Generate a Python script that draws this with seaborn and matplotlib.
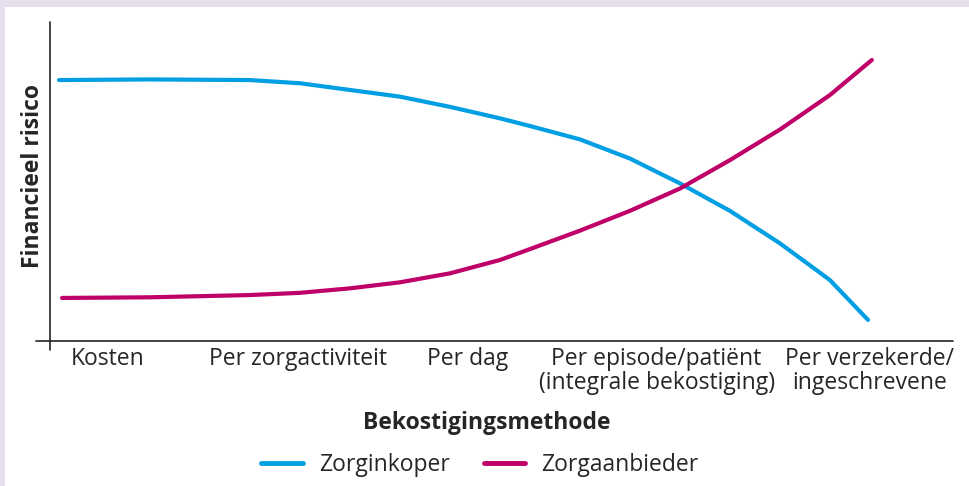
import numpy as np
import matplotlib.pyplot as plt
import pandas as pd
import seaborn as sns
from matplotlib.lines import Line2D

# categories on the x axis and where their labels sit
categories = ['Kosten', 'Per zorgactiviteit', 'Per dag',
              'Per episode/patiënt\n(integrale bekostiging)',
              'Per verzekerde/\ningeschrevene']
category_pos = [0, 1, 1.89, 2.88, 4.0]

# curves (x in category units, y = relative risk 0..1)
koper_x = [-0.257, 0.220, 0.745, 1.008, 1.270, 1.533, 1.795, 2.058, 2.215, 2.478,
           2.740, 3.003, 3.265, 3.528, 3.790, 3.990]
koper_y = [0.818, 0.820, 0.818, 0.808, 0.787, 0.766, 0.734, 0.698, 0.674, 0.632,
           0.572, 0.494, 0.408, 0.306, 0.191, 0.066]
aanbieder_x = [-0.241, 0.220, 0.745, 1.008, 1.270, 1.533, 1.795, 2.058, 2.215, 2.478,
               2.740, 3.003, 3.265, 3.528, 3.790, 4.010]
aanbieder_y = [0.135, 0.137, 0.144, 0.151, 0.165, 0.184, 0.212, 0.254, 0.288, 0.346,
               0.408, 0.478, 0.567, 0.663, 0.771, 0.881]

series = ['Zorginkoper', 'Zorgaanbieder']
colors = ['#009FE3', '#BE0068']

df = pd.concat([
    pd.DataFrame({'x': koper_x, 'y': koper_y, 'serie': series[0]}),
    pd.DataFrame({'x': aanbieder_x, 'y': aanbieder_y, 'serie': series[1]}),
])

sns.set_style('white')
plt.rcParams['font.family'] = ['Open Sans', 'DejaVu Sans']
fs = 16.5

fig = plt.figure(figsize=(9.7, 4.86), dpi=100)
fig.patch.set_facecolor('#E6E0EE')
# white panel with lavender strip on top and left
fig.patches.append(plt.Rectangle((5 / 970, 0), 1, 1 - 7 / 486, transform=fig.transFigure,
                                 facecolor='white', edgecolor='none', zorder=-1))

ax = fig.add_axes([50 / 970, 1 - 341 / 486, 903 / 970, 319 / 486])
ax.set_facecolor('none')
sns.lineplot(data=df, x='x', y='y', hue='serie', palette=colors, sort=False,
             linewidth=3, legend=False, ax=ax, solid_capstyle='round',
             solid_joinstyle='round')

ax.set_xlim(-0.304, 4.436)
ax.set_ylim(0, 1)
for s in ax.spines.values():
    s.set_visible(False)
# axis lines crossing at the origin
ax.add_line(Line2D([-0.0155, 1], [0, 0], transform=ax.transAxes, color='#222222',
                   linewidth=1.2, clip_on=False))
ax.add_line(Line2D([0, 0], [-0.028, 1], transform=ax.transAxes, color='#222222',
                   linewidth=1.2, clip_on=False))

ax.set_yticks([])
ax.set_xticks(category_pos)
ax.set_xticklabels(categories, fontsize=fs, linespacing=1.05)
ax.tick_params(axis='x', length=0, pad=4)
ax.set_xlabel('Bekostigingsmethode', fontsize=fs, fontweight='bold')
ax.xaxis.set_label_coords(0.484, -0.22)
ax.set_ylabel('Financieel risico', fontsize=fs, fontweight='bold')
ax.yaxis.set_label_coords(-0.006, 0.517)

handles = [Line2D([], [], color=c, linewidth=3.5, solid_capstyle='round') for c in colors]
fig.legend(handles, series, loc='center', bbox_to_anchor=(480 / 970, 1 - 465 / 486),
           ncol=2, frameon=False, fontsize=fs, handlelength=1.8, handletextpad=0.7,
           columnspacing=1.5)

fig.savefig('out.png', dpi=100, facecolor=fig.get_facecolor())
